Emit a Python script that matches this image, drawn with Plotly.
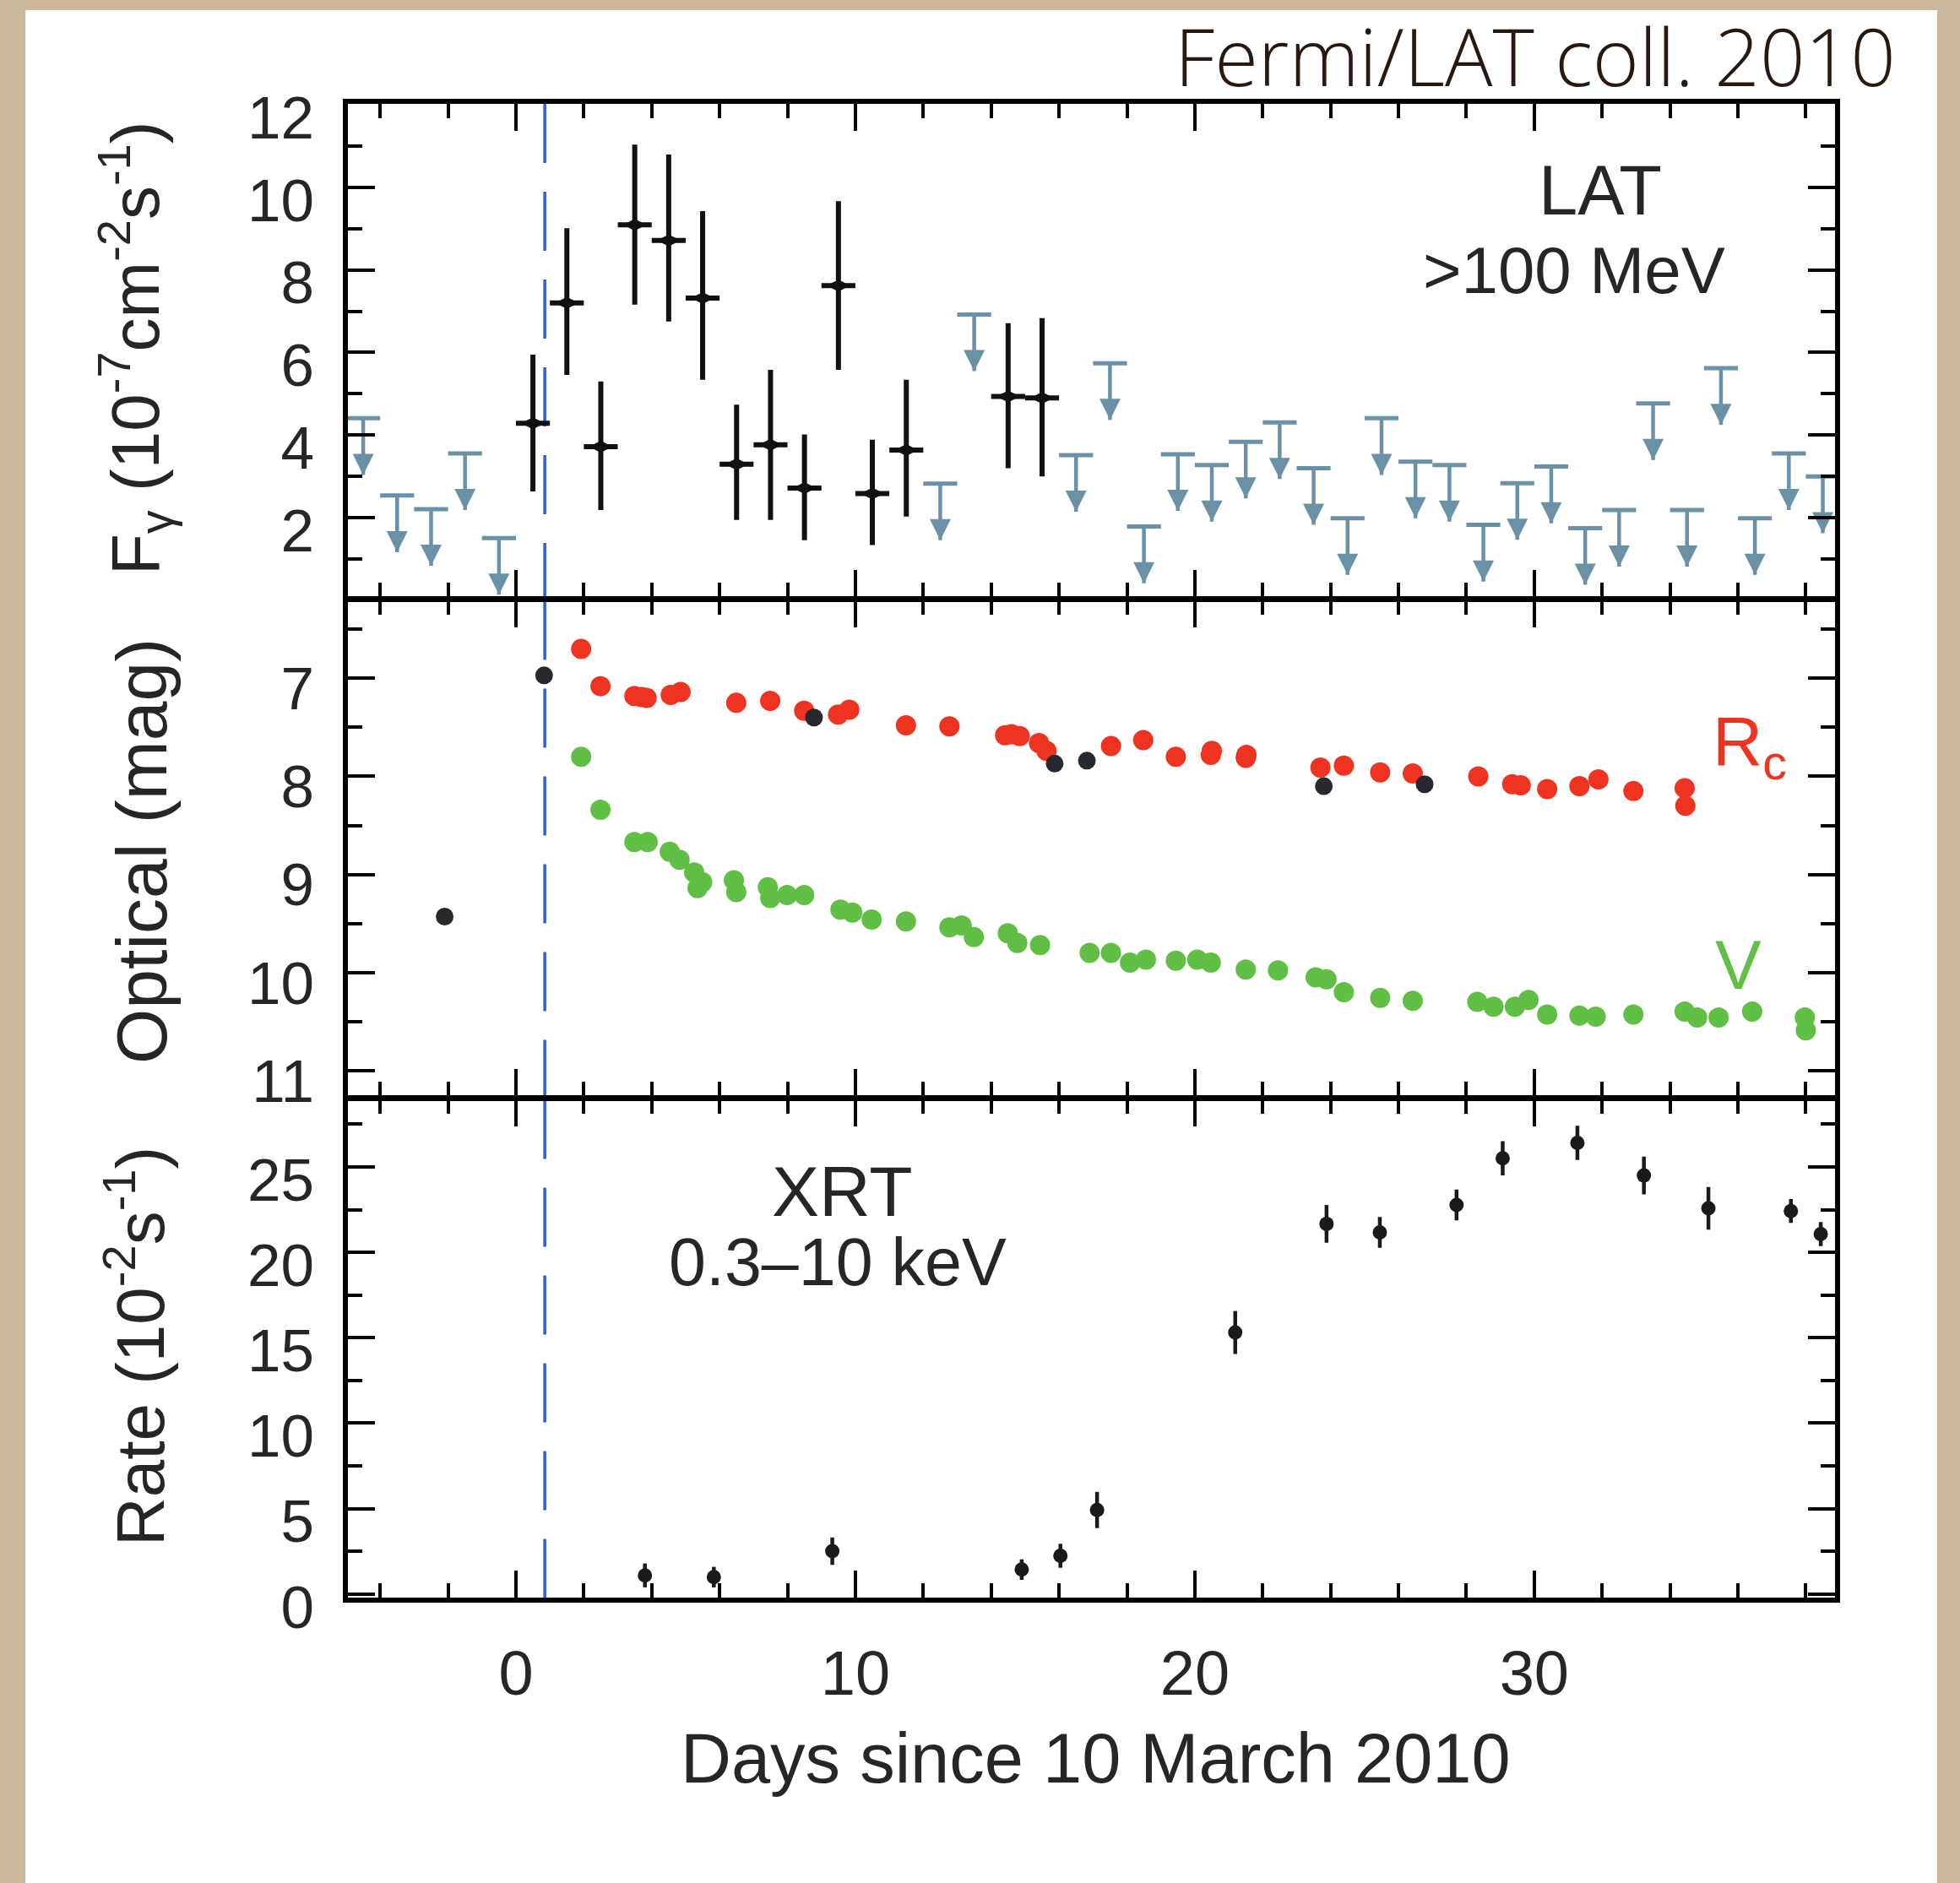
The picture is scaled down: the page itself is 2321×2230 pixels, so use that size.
import plotly.graph_objects as go

# ---------------- data ----------------
# Fermi/LAT >100 MeV detections (1-day bins)
lat_day = [0.5, 1.5, 2.5, 3.5, 4.5, 5.5, 6.5, 7.5, 8.5, 9.5, 10.5, 11.5, 14.5, 15.5]
lat_flux = [4.29, 7.20, 3.72, 9.09, 8.71, 7.32, 3.30, 3.77, 2.72, 7.62, 2.59, 3.64, 4.94, 4.90]
lat_err_plus = [1.66, 1.81, 1.58, 1.94, 2.08, 2.10, 1.44, 1.81, 1.30, 2.04, 1.30, 1.70, 1.77, 1.93]
lat_err_minus = [1.65, 1.74, 1.53, 1.93, 1.96, 1.98, 1.35, 1.82, 1.26, 2.04, 1.25, 1.61, 1.74, 1.90]
lat_bin_half = 0.5

# Fermi/LAT upper limits
ul_day = [-4.5, -3.5, -2.5, -1.5, -0.5, 12.5, 13.5, 16.5, 17.5, 18.5, 19.5, 20.5, 21.5,
          22.5, 23.5, 24.5, 25.5, 26.5, 27.5, 28.5, 29.5, 30.5, 31.5, 32.5, 33.5, 34.5,
          35.5, 36.5, 37.5, 38.5]
ul_flux = [4.41, 2.54, 2.21, 3.56, 1.51, 2.83, 6.92, 3.52, 5.74, 1.79, 3.54, 3.28, 3.84,
           4.31, 3.20, 1.99, 4.41, 3.36, 3.28, 1.83, 2.84, 3.24, 1.75, 2.19, 4.77, 2.19,
           5.62, 1.99, 3.56, 3.00]

# Optical magnitudes
other_day = [-2.10, 0.83, 8.78, 15.87, 16.82, 23.80, 26.77]
other_mag = [9.43, 6.97, 7.40, 7.87, 7.84, 8.10, 8.08]

rc_day = [1.92, 2.49, 3.49, 3.70, 3.85, 4.56, 4.85, 6.49, 7.49, 8.49, 9.49, 9.82, 11.49,
          12.77, 14.41, 14.60, 14.84, 15.41, 15.63, 17.53, 18.48, 19.44, 20.47, 20.50,
          21.50, 21.52, 23.70, 24.39, 25.46, 26.42, 28.35, 29.35, 29.60, 30.38, 31.33,
          31.89, 32.92, 34.43, 34.45]
rc_mag = [6.70, 7.08, 7.18, 7.19, 7.20, 7.17, 7.14, 7.25, 7.23, 7.33, 7.37, 7.32, 7.48,
          7.49, 7.58, 7.57, 7.59, 7.66, 7.74, 7.69, 7.63, 7.80, 7.78, 7.74, 7.81, 7.78,
          7.91, 7.89, 7.96, 7.97, 8.00, 8.08, 8.09, 8.13, 8.10, 8.03, 8.15, 8.12, 8.30]

v_day = [1.92, 2.49, 3.49, 3.88, 4.53, 4.82, 5.25, 5.35, 5.49, 6.42, 6.49, 7.42, 7.49,
         7.99, 8.49, 9.56, 9.91, 10.48, 11.49, 12.77, 13.13, 13.49, 14.49, 14.77, 15.44,
         16.90, 17.53, 18.09, 18.56, 19.44, 20.07, 20.47, 21.50, 22.45, 23.56, 23.88,
         24.39, 25.46, 26.42, 28.32, 28.80, 29.43, 29.83, 30.38, 31.33, 31.81, 32.92,
         34.43, 34.80, 35.43, 36.42, 37.97, 38.00]
v_mag = [7.80, 8.34, 8.67, 8.67, 8.77, 8.85, 8.98, 9.14, 9.08, 9.06, 9.18, 9.13, 9.24,
         9.21, 9.21, 9.36, 9.39, 9.46, 9.48, 9.54, 9.52, 9.64, 9.60, 9.70, 9.72,
         9.80, 9.80, 9.90, 9.87, 9.88, 9.87, 9.90, 9.97, 9.98, 10.05, 10.07,
         10.20, 10.26, 10.29, 10.30, 10.35, 10.35, 10.28, 10.43, 10.44, 10.45, 10.43,
         10.40, 10.46, 10.46, 10.40, 10.46, 10.59]

# Swift/XRT 0.3-10 keV count rate
xrt_day = [3.80, 5.83, 9.32, 14.90, 16.04, 17.12, 21.19, 23.88, 25.45, 27.71, 29.07,
           31.27, 33.23, 35.13, 37.56, 38.44]
xrt_rate = [1.09, 0.99, 2.51, 1.43, 2.24, 4.92, 15.31, 21.67, 21.17, 22.78, 25.51,
            26.41, 24.50, 22.58, 22.42, 21.07]
xrt_err = [0.7, 0.6, 0.8, 0.6, 0.7, 1.06, 1.26, 1.1, 0.9, 0.9, 1.0, 1.0, 1.1, 1.25, 0.7, 0.7]

onset_day = 0.85

# tick labels
lat_ticks = [2, 4, 6, 8, 10, 12]
opt_ticks = [7, 8, 9, 10, 11]
xrt_ticks = [0, 5, 10, 15, 20, 25]
day_ticks = [0, 10, 20, 30]

# ---------------- styling ----------------
W, H = 2321, 2230
ML, MR, MT, MB = 412, 148, 123, 338
PL, PR, PT, PB = ML, W - MR, MT, H - MB
UL_COLOR = "#6b91a6"
RED = "#ee3420"
GREEN = "#62bf45"
DARK = "#1a1a1a"
BLUE = "#2f5fd0"
TXT = "#262626"
FONT = "Liberation Sans, Arial, Helvetica, sans-serif"
ul_arrow = 1.37  # arrow length of upper-limit symbols (flux units)


def px_x(p):
    return (p - PL) / (PR - PL)


def px_y(p):
    return (PB - p) / (PB - PT)


dom1 = [px_y(706.5), 1.0]
dom2 = [px_y(1297.5), px_y(711.5)]
dom3 = [0.0, px_y(1302.5)]

fig = go.Figure()

# --- panel 1: LAT ---
fig.add_trace(go.Scatter(
    x=ul_day, y=ul_flux, mode="markers", xaxis="x", yaxis="y",
    marker=dict(size=2, color=UL_COLOR, opacity=0),
    error_x=dict(type="constant", value=lat_bin_half, width=0, thickness=5, color=UL_COLOR),
    error_y=dict(type="constant", symmetric=False, value=0, valueminus=ul_arrow,
                 width=0, thickness=4.5, color=UL_COLOR),
    showlegend=False, hoverinfo="skip"))
fig.add_trace(go.Scatter(
    x=ul_day, y=[f - ul_arrow for f in ul_flux], mode="markers", xaxis="x", yaxis="y",
    marker=dict(symbol="arrow-down", size=25, color=UL_COLOR, line=dict(width=0)),
    showlegend=False, hoverinfo="skip"))
fig.add_trace(go.Scatter(
    x=lat_day, y=lat_flux, mode="markers", xaxis="x", yaxis="y",
    marker=dict(symbol="diamond-wide", size=20, color="#111111", line=dict(width=0)),
    error_x=dict(type="constant", value=lat_bin_half, width=0, thickness=6, color="#111111"),
    error_y=dict(type="data", symmetric=False, array=lat_err_plus, arrayminus=lat_err_minus,
                 width=0, thickness=6, color="#111111"),
    showlegend=False))

# --- panel 2: optical ---
fig.add_trace(go.Scatter(x=rc_day, y=rc_mag, mode="markers", xaxis="x2", yaxis="y2",
                         marker=dict(size=24, color=RED, line=dict(width=0)), showlegend=False))
fig.add_trace(go.Scatter(x=v_day, y=v_mag, mode="markers", xaxis="x2", yaxis="y2",
                         marker=dict(size=24, color=GREEN, line=dict(width=0)), showlegend=False))
fig.add_trace(go.Scatter(x=other_day, y=other_mag, mode="markers", xaxis="x2", yaxis="y2",
                         marker=dict(size=21, color="#262a30", line=dict(width=0)), showlegend=False))

# --- panel 3: XRT ---
fig.add_trace(go.Scatter(
    x=xrt_day, y=xrt_rate, mode="markers", xaxis="x3", yaxis="y3",
    marker=dict(size=17, color=DARK, line=dict(width=0)),
    error_y=dict(type="data", array=xrt_err, width=0, thickness=4.5, color=DARK),
    showlegend=False))

xrange = [-4.95, 38.86]
common = dict(showline=True, linewidth=5.5, linecolor="black", mirror="ticks",
              ticks="inside", tickwidth=4, tickcolor="black", showgrid=False,
              zeroline=False, tickfont=dict(family=FONT, size=71, color=TXT))
xminor = dict(ticks="inside", ticklen=17, tickwidth=4, tickcolor="black", dtick=2,
              tick0=0, showgrid=False)

layout_axes = {}
for i, (xa, ya) in enumerate([("xaxis", "yaxis"), ("xaxis2", "yaxis2"), ("xaxis3", "yaxis3")]):
    last = (i == 2)
    layout_axes[xa] = dict(common, domain=[0, 1], range=xrange, anchor=ya.replace("axis", ""),
                           tickmode="array", tickvals=day_ticks, ticklen=32,
                           showticklabels=last, minor=xminor,
                           tickfont=dict(family=FONT, size=74, color=TXT),
                           ticklabelstandoff=20)

layout_axes["yaxis"] = dict(common, domain=dom1, range=[0.096, 12.016], anchor="x",
                            tickmode="array", tickvals=lat_ticks, ticklen=32,
                            minor=dict(ticks="inside", ticklen=17, tickwidth=4,
                                       tickcolor="black", tickmode="linear", tick0=0, dtick=1),
                            ticklabelstandoff=20, ticklabelshift=15)
layout_axes["yaxis2"] = dict(common, domain=dom2, range=[11.256, 6.209], anchor="x2",
                             tickmode="array", tickvals=opt_ticks, ticklen=32,
                             minor=dict(ticks="inside", ticklen=17, tickwidth=4,
                                        tickcolor="black", tickmode="linear", tick0=0, dtick=0.5),
                             ticklabelstandoff=20, ticklabelshift=-12)
layout_axes["yaxis3"] = dict(common, domain=dom3, range=[-0.208, 28.93], anchor="x3",
                             tickmode="array", tickvals=xrt_ticks, ticklen=32,
                             minor=dict(ticks="inside", ticklen=17, tickwidth=4,
                                        tickcolor="black", tickmode="linear", tick0=0, dtick=2.5),
                             ticklabelstandoff=20, ticklabelshift=15)

shapes = []
for xr, yr in [("x", "y domain"), ("x2", "y2 domain"), ("x3", "y3 domain")]:
    shapes.append(dict(type="line", xref=xr, yref=yr, x0=onset_day, x1=onset_day, y0=1, y1=0,
                       line=dict(color=BLUE, width=3.5, dash="70px,34px"), layer="below"))

BEIGE = "#c9b89b"
shapes += [
    dict(type="rect", xref="paper", yref="paper", x0=px_x(0), x1=px_x(30), y0=px_y(H), y1=px_y(0),
         fillcolor=BEIGE, line=dict(width=0), layer="above"),
    dict(type="rect", xref="paper", yref="paper", x0=px_x(0), x1=px_x(W), y0=px_y(12), y1=px_y(0),
         fillcolor=BEIGE, line=dict(width=0), layer="above"),
    dict(type="rect", xref="paper", yref="paper", x0=px_x(2294), x1=px_x(W), y0=px_y(H), y1=px_y(0),
         fillcolor=BEIGE, line=dict(width=0), layer="above"),
]


def ann(text, x, y, size, color=TXT, angle=0, family=FONT, xanchor="center", yanchor="middle", **kw):
    return dict(text=text, x=px_x(x), y=px_y(y), xref="paper", yref="paper", showarrow=False,
                font=dict(family=family, size=size, color=color, **kw), textangle=angle,
                xanchor=xanchor, yanchor=yanchor)


annotations = [
    ann("Fermi/LAT coll. 2010", 1818, 66, 94, color="#2a180e",
        family="Open Sans, Noto Sans, sans-serif", weight=300),
    ann("LAT", 1895, 225, 83),
    ann("&gt;100 MeV", 1864, 320, 78),
    ann("XRT", 997, 1411, 84),
    ann("0.3–10 keV", 992, 1494, 79),
    ann("R<sub>c</sub>", 2026, 884, 82, color=RED, xanchor="left"),
    ann("V", 2029, 1142, 82, color=GREEN, xanchor="left"),
    ann("F<sub>γ</sub> (10<sup>-7</sup>cm<sup>-2</sup>s<sup>-1</sup>)", 160, 413, 80, angle=-90),
    ann("Optical (mag)", 168, 1008, 84, angle=-90),
    ann("Rate (10<sup>-2</sup>s<sup>-1</sup>)", 160, 1595, 80, angle=-90),
    ann("Days since 10 March 2010", 1297, 2082, 83),
]

fig.update_layout(
    width=W, height=H, margin=dict(l=ML, r=MR, t=MT, b=MB, autoexpand=False),
    paper_bgcolor="white", plot_bgcolor="white", showlegend=False,
    shapes=shapes, annotations=annotations, **layout_axes)

fig.write_html("out.html")
